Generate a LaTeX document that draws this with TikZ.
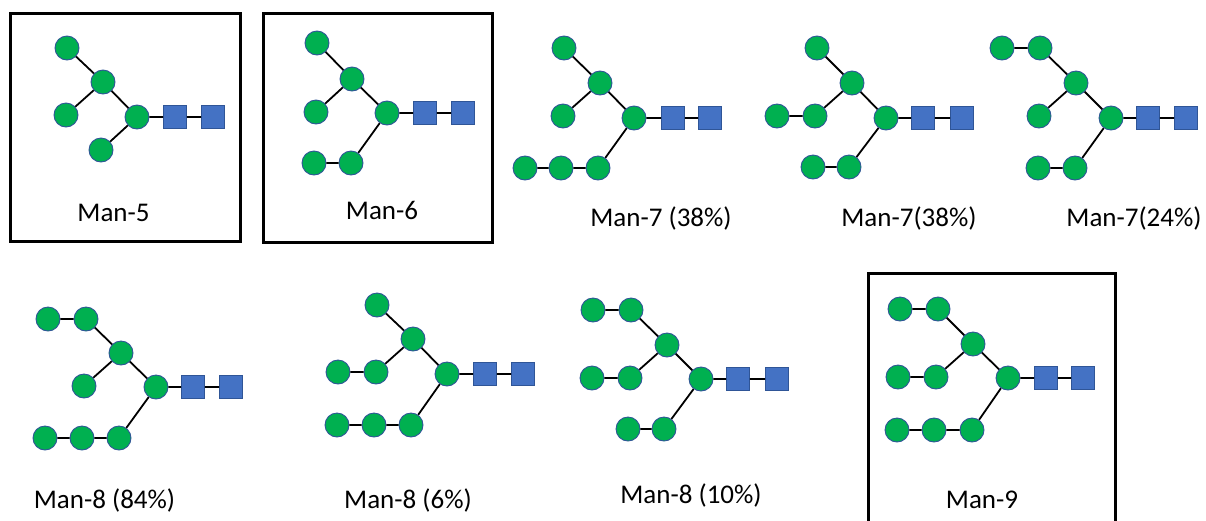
\documentclass[tikz,border=0pt]{standalone}
\usepackage{fontspec}
\setmainfont{Carlito}
\definecolor{mangreen}{HTML}{00B050}
\definecolor{manedge}{HTML}{2F5597}
\definecolor{glcblue}{HTML}{4472C4}
\begin{document}
\begin{tikzpicture}[x=1pt,y=-1pt,
  man/.style={circle,minimum size=24pt,inner sep=0pt,fill=mangreen,draw=manedge,line width=0.9pt},
  glc/.style={rectangle,minimum size=23pt,inner sep=0pt,fill=glcblue,draw=manedge,line width=0.9pt},
  bond/.style={draw=black,line width=1.8pt},
  frame/.style={draw=black,line width=3pt},
  lbl/.style={anchor=base,inner sep=0pt,font=\fontsize{27}{32}\selectfont}]
\useasboundingbox (0,0) rectangle (1206,520);
% frames
\draw[frame] (10,13) rectangle (240,241);
\draw[frame] (263,13) rectangle (492,242);
\draw[frame] (868,522) -- (868,273) -- (1115,273) -- (1115,522);

% Man-5
\node[man] (A1) at (67,48) {};
\node[man] (A2) at (103,82) {};
\node[man] (A3) at (66,115) {};
\node[man] (A4) at (137,117) {};
\node[man] (A5) at (101,150) {};
\node[glc] (AS1) at (175,117) {};
\node[glc] (AS2) at (213,117) {};
\draw[bond] (A1)--(A2) (A2)--(A3) (A2)--(A4) (A4)--(A5) (A4)--(AS1) (AS1)--(AS2);
\node[lbl] (AL) at (113.5,221) {Man-5};

% Man-6
\node[man] (B1) at (317,43) {};
\node[man] (B2) at (352,79) {};
\node[man] (B3) at (316,112) {};
\node[man] (B4) at (387,113) {};
\node[man] (B5) at (351,163) {};
\node[man] (B6) at (314,163) {};
\node[glc] (BS1) at (425,113) {};
\node[glc] (BS2) at (463,113) {};
\draw[bond] (B1)--(B2) (B2)--(B3) (B2)--(B4) (B4)--(B5) (B5)--(B6) (B4)--(BS1) (BS1)--(BS2);
\node[lbl] (BL) at (382,219) {Man-6};

% Man-7 (38%)
\node[man] (C1) at (564,48) {};
\node[man] (C2) at (600,83) {};
\node[man] (C3) at (563,116) {};
\node[man] (C4) at (634,118) {};
\node[man] (C5) at (598,168) {};
\node[man] (C6) at (561,168) {};
\node[man] (C7) at (525,168) {};
\node[glc] (CS1) at (673,118) {};
\node[glc] (CS2) at (710,118) {};
\draw[bond] (C1)--(C2) (C2)--(C3) (C2)--(C4) (C4)--(C5) (C5)--(C6) (C6)--(C7) (C4)--(CS1) (CS1)--(CS2);
\node[lbl] (CL) at (661,226) {Man-7 (38\%)};

% Man-7(38%)
\node[man] (D1) at (817,48) {};
\node[man] (D2) at (852,83) {};
\node[man] (D3) at (815,116) {};
\node[man] (D3b) at (777,116) {};
\node[man] (D4) at (886,118) {};
\node[man] (D5) at (849,167) {};
\node[man] (D6) at (813,167) {};
\node[glc] (DS1) at (923,118) {};
\node[glc] (DS2) at (962,118) {};
\draw[bond] (D1)--(D2) (D2)--(D3) (D3)--(D3b) (D2)--(D4) (D4)--(D5) (D5)--(D6) (D4)--(DS1) (DS1)--(DS2);
\node[lbl] (DL) at (909,226) {Man-7(38\%)};

% Man-7(24%)
\node[man] (E0) at (1002,48) {};
\node[man] (E1) at (1040,48) {};
\node[man] (E2) at (1076,83) {};
\node[man] (E3) at (1039,116) {};
\node[man] (E4) at (1111,118) {};
\node[man] (E5) at (1075,168) {};
\node[man] (E6) at (1038,168) {};
\node[glc] (ES1) at (1148,118) {};
\node[glc] (ES2) at (1186,118) {};
\draw[bond] (E0)--(E1) (E1)--(E2) (E2)--(E3) (E2)--(E4) (E4)--(E5) (E5)--(E6) (E4)--(ES1) (ES1)--(ES2);
\node[lbl] (EL) at (1134,226) {Man-7(24\%)};

% Man-8 (84%)
\node[man] (F0) at (48,319) {};
\node[man] (F1) at (86,319) {};
\node[man] (F2) at (121,353) {};
\node[man] (F3) at (84,386) {};
\node[man] (F4) at (156,387) {};
\node[man] (F5) at (119,438) {};
\node[man] (F6) at (82,438) {};
\node[man] (F7) at (45,438) {};
\node[glc] (FS1) at (193,387) {};
\node[glc] (FS2) at (231,387) {};
\draw[bond] (F0)--(F1) (F1)--(F2) (F2)--(F3) (F2)--(F4) (F4)--(F5) (F5)--(F6) (F6)--(F7) (F4)--(FS1) (FS1)--(FS2);
\node[lbl] (FL) at (104.5,508) {Man-8 (84\%)};

% Man-8 (6%)
\node[man] (G1) at (377,305) {};
\node[man] (G2) at (413,339) {};
\node[man] (G3) at (376,372) {};
\node[man] (G3b) at (338,372) {};
\node[man] (G4) at (447,374) {};
\node[man] (G5) at (411,425) {};
\node[man] (G6) at (374,425) {};
\node[man] (G7) at (337,425) {};
\node[glc] (GS1) at (485,374) {};
\node[glc] (GS2) at (523,374) {};
\draw[bond] (G1)--(G2) (G2)--(G3) (G3)--(G3b) (G2)--(G4) (G4)--(G5) (G5)--(G6) (G6)--(G7) (G4)--(GS1) (GS1)--(GS2);
\node[lbl] (GL) at (408,508) {Man-8 (6\%)};

% Man-8 (10%)
\node[man] (H0) at (593,310) {};
\node[man] (H1) at (631,310) {};
\node[man] (H2) at (667,345) {};
\node[man] (H3) at (630,378) {};
\node[man] (H3b) at (592,378) {};
\node[man] (H4) at (701,379) {};
\node[man] (H5) at (664,429) {};
\node[man] (H6) at (628,429) {};
\node[glc] (HS1) at (738,379) {};
\node[glc] (HS2) at (777,379) {};
\draw[bond] (H0)--(H1) (H1)--(H2) (H2)--(H3) (H3)--(H3b) (H2)--(H4) (H4)--(H5) (H5)--(H6) (H4)--(HS1) (HS1)--(HS2);
\node[lbl] (HL) at (691,503) {Man-8 (10\%)};

% Man-9
\node[man] (I0) at (900,309) {};
\node[man] (I1) at (938,309) {};
\node[man] (I2) at (973,344) {};
\node[man] (I3) at (936,377) {};
\node[man] (I3b) at (898,377) {};
\node[man] (I4) at (1008,378) {};
\node[man] (I5) at (972,430) {};
\node[man] (I6) at (934,430) {};
\node[man] (I7) at (897,430) {};
\node[glc] (IS1) at (1046,378) {};
\node[glc] (IS2) at (1083,378) {};
\draw[bond] (I0)--(I1) (I1)--(I2) (I2)--(I3) (I3)--(I3b) (I2)--(I4) (I4)--(I5) (I5)--(I6) (I6)--(I7) (I4)--(IS1) (IS1)--(IS2);
\node[lbl] (IL) at (982,508) {Man-9};
\end{tikzpicture}
\end{document}
